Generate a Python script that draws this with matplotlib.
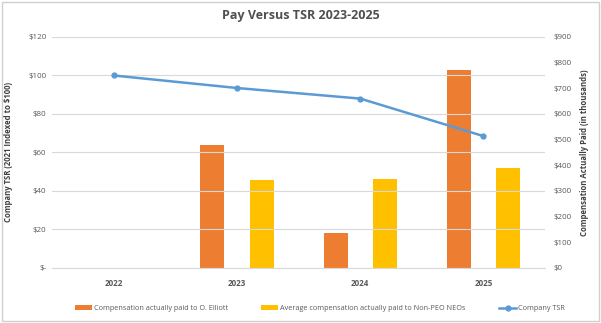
import matplotlib.pyplot as plt
import matplotlib.patches as patches
import numpy as np

years = ['2022', '2023', '2024', '2025']
tsr = [100, 93.5, 88, 68.5]
cap_elliott = [np.nan, 480, 138, 770]
cap_neos = [np.nan, 343, 345, 391]

orange = '#ED7D31'
yellow = '#FFC000'
blue = '#5B9BD5'
grid_col = '#D9D9D9'
text_col = '#595959'

plt.rcParams['font.family'] = ['Open Sans', 'DejaVu Sans']

fig = plt.figure(figsize=(6.01, 3.23), dpi=100)
ax = fig.add_axes([0.0865, 0.1703, 0.8205, 0.7152])
ax2 = ax.twinx()

x = np.arange(len(years))
w = 0.195
off = 0.2

# Bars go on the right-hand axis, TSR line on the left
ax2.bar(x - off, cap_elliott, w, color=orange, label='Compensation actually paid to O. Elliott')
ax2.bar(x + off, cap_neos, w, color=yellow, label='Average compensation actually paid to Non-PEO NEOs')
ax.plot(x, tsr, color=blue, lw=1.8, marker='o', ms=3.5, label='Company TSR', zorder=5)
ax.set_zorder(ax2.get_zorder() + 1)
ax.patch.set_visible(False)

ax.set_xlim(-0.5, len(years) - 0.5)
ax.set_ylim(0, 120)
ax2.set_ylim(0, 900)
ax.set_yticks(range(0, 121, 20))
ax.set_yticklabels(['$-'] + [f'${v}' for v in range(20, 121, 20)])
ax2.set_yticks(range(0, 901, 100))
ax2.set_yticklabels([f'${v}' for v in range(0, 901, 100)])
ax.set_xticks(x)
ax.set_xticklabels(years, fontsize=6.3, fontweight='bold', color=text_col)

ax.yaxis.grid(True, color=grid_col, lw=0.8)
ax.set_axisbelow(True)
ax2.set_axisbelow(True)
for a in (ax, ax2):
    for s in a.spines.values():
        s.set_visible(False)
    a.tick_params(length=0, labelsize=5.8, labelcolor=text_col)
ax.spines['bottom'].set_visible(True)
ax.spines['bottom'].set_color(grid_col)
ax.tick_params(axis='x', pad=8)
ax.tick_params(axis='y', pad=4)
ax2.tick_params(axis='y', pad=6)

ax.set_ylabel('Company TSR (2021 Indexed to $100)', fontsize=5.6, fontweight='bold',
              color='#404040')
ax.yaxis.set_label_coords(-0.079, 0.5)
ax2.set_ylabel('Compensation Actually Paid (in thousands)', fontsize=5.6, fontweight='bold',
               color='#404040')
ax2.yaxis.set_label_coords(1.071, 0.5)

fig.text(0.5, 0.952, 'Pay Versus TSR 2023-2025', ha='center', va='center',
         fontsize=9, fontweight='bold', color='#505050')

h1, l1 = ax2.get_legend_handles_labels()
h2, l2 = ax.get_legend_handles_labels()
fig.legend(h1 + h2, l1 + l2, loc='center', bbox_to_anchor=(0.532, 0.045), ncol=3,
           frameon=False, fontsize=5.2, labelcolor=text_col, handlelength=2.4,
           handleheight=0.6, columnspacing=4.6, handletextpad=0.25)

# light frame round the whole chart
fig.patches.append(patches.Rectangle((0.003, 0.005), 0.994, 0.99, transform=fig.transFigure,
                                     fill=False, ec='#D0D0D0', lw=1))

fig.savefig('out.png', dpi=100, facecolor='white')
